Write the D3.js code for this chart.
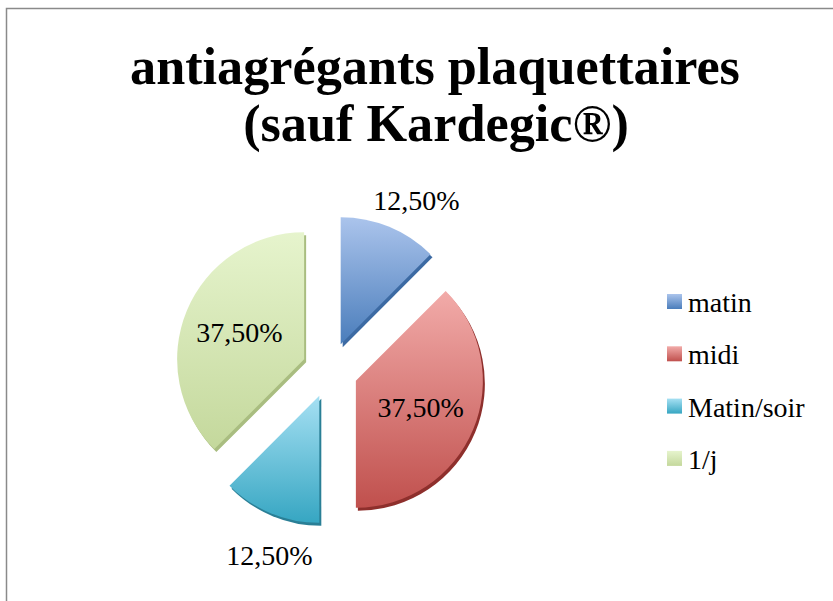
<!DOCTYPE html>
<html>
<head>
<meta charset="utf-8">
<script src="https://cdnjs.cloudflare.com/ajax/libs/d3/7.8.5/d3.min.js"></script>
<style>
  body { margin: 0; background: #fff; }
  svg { display: block; }
</style>
</head>
<body>
<div id="chart"></div>
<script>
// data
var categories = ["matin", "midi", "Matin/soir", "1/j"];
var values = [12.5, 37.5, 12.5, 37.5];
var titleLines = ["antiagrégants plaquettaires", "(sauf Kardegic®)"];

// colours: light top / dark bottom / edge
var topColors = ["#abc4ec", "#f2aba9", "#a6e0f3", "#e6f4cd"];
var bottomColors = ["#4a7dbb", "#c0504d", "#36a6c2", "#c4d89c"];
var edgeColors = ["#3c6aa3", "#8e2f2c", "#2a7f96", "#a9bd80"];

var width = 833, height = 601;
var cx = 330, cy = 370, radius = 127, explode = 28;

var fr = d3.formatLocale({ decimal: ",", thousands: " ", grouping: [3], currency: ["", "€"] });
var fmt = fr.format(".2f");

var svg = d3.select("#chart").append("svg")
    .attr("width", width)
    .attr("height", height);

svg.append("rect")
    .attr("width", width).attr("height", height)
    .attr("fill", "#fff");

// chart frame
svg.append("rect")
    .attr("x", 6.5).attr("y", 8.5)
    .attr("width", 900).attr("height", 700)
    .attr("fill", "none")
    .attr("stroke", "#8a8a8a")
    .attr("stroke-width", 1.5);

var defs = svg.append("defs");
categories.forEach(function (c, i) {
    var g = defs.append("linearGradient")
        .attr("id", "grad" + i)
        .attr("x1", 0).attr("y1", 0).attr("x2", 0).attr("y2", 1);
    g.append("stop").attr("offset", "0%").attr("stop-color", topColors[i]);
    g.append("stop").attr("offset", "100%").attr("stop-color", bottomColors[i]);
});

// title
var title = svg.append("g").attr("class", "title");
var titleY = [84, 141];
var titleW = [610, 362];
var titleX = [435, 436];
titleLines.forEach(function (t, i) {
    title.append("text")
        .attr("x", titleX[i])
        .attr("y", titleY[i])
        .attr("text-anchor", "middle")
        .style("font-family", "'Liberation Serif', serif")
        .style("font-weight", "bold")
        .style("font-size", "50px")
        .text(t);
});
// fit both lines to the same font size, based on line 1 width
var firstLen = title.select("text").node().getComputedTextLength();
var titleSize = 50 * titleW[0] / firstLen;
title.selectAll("text").style("font-size", titleSize + "px");

// pie
var pie = d3.pie().sort(null).value(function (d) { return d; });
var arcs = pie(values);
var arc = d3.arc().innerRadius(0).outerRadius(radius);
var labelOut = d3.arc().innerRadius(192).outerRadius(192);
var labelIn = d3.arc().innerRadius(98).outerRadius(98);
var total = d3.sum(values);

var pieG = svg.append("g")
    .attr("transform", "translate(" + cx + "," + cy + ")");

var slice = pieG.selectAll(".slice")
    .data(arcs)
    .enter()
    .append("g")
    .attr("class", "slice")
    .attr("transform", function (d) {
        var a = (d.startAngle + d.endAngle) / 2;
        return "translate(" + (Math.sin(a) * explode) + "," + (-Math.cos(a) * explode) + ")";
    });

// extruded edge
slice.append("path")
    .attr("d", arc)
    .attr("transform", "translate(2,3)")
    .attr("fill", function (d, i) { return edgeColors[i]; });

slice.append("path")
    .attr("d", arc)
    .attr("fill", function (d, i) { return "url(#grad" + i + ")"; });

pieG.selectAll(".label")
    .data(arcs)
    .enter()
    .append("text")
    .attr("class", "label")
    .attr("transform", function (d) {
        var p;
        if (d.value / total < 0.2) {
            p = labelOut.centroid(d);
            p = [p[0] + 13, p[1] + 8];
        } else {
            p = labelIn.centroid(d);
        }
        return "translate(" + p + ")";
    })
    .attr("dy", "0.35em")
    .attr("text-anchor", "middle")
    .style("font-family", "'Liberation Serif', serif")
    .style("font-size", "28px")
    .text(function (d) { return fmt(d.value) + "%"; });

// legend
var legend = svg.selectAll(".legend")
    .data(categories)
    .enter()
    .append("g")
    .attr("class", "legend")
    .attr("transform", function (d, i) {
        return "translate(667," + (294 + i * 52.3) + ")";
    });

legend.append("rect")
    .attr("width", 15)
    .attr("height", 15)
    .attr("fill", function (d, i) { return "url(#grad" + i + ")"; });

legend.append("text")
    .attr("x", 21)
    .attr("y", 18)
    .style("font-family", "'Liberation Serif', serif")
    .style("font-size", "28px")
    .text(function (d) { return d; });
</script>
</body>
</html>
